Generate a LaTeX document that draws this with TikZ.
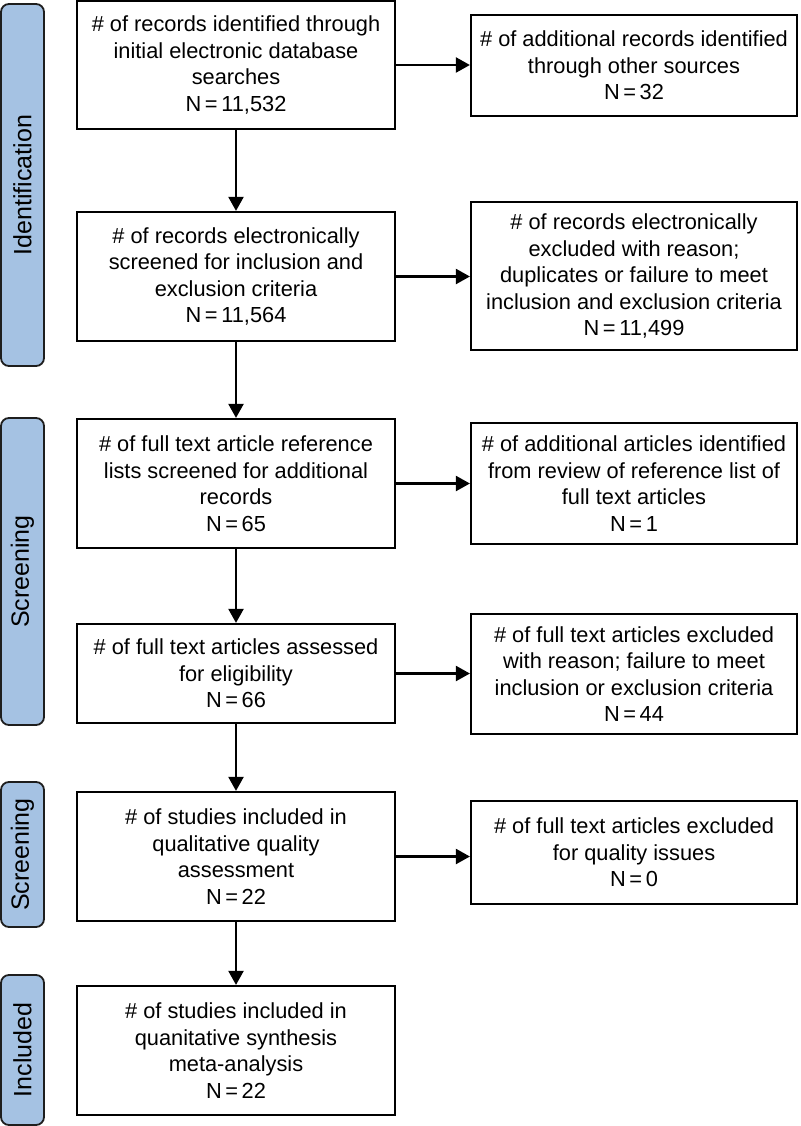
\documentclass[tikz,border=0pt]{standalone}
\usepackage{fontspec}
\setmainfont{Liberation Sans}
\usetikzlibrary{arrows.meta}
\definecolor{barblue}{RGB}{165,194,227}
\definecolor{barline}{RGB}{30,30,30}
\tikzset{
  box/.style={draw=black, line width=2.2pt, fill=white, rectangle, inner sep=0pt,
    align=center, font=\fontsize{21.8}{26.5}\selectfont},
  lbox/.style={box, minimum width=318pt},
  rbox/.style={box, minimum width=326pt},
  phase/.style={draw=barline, line width=1.8pt, fill=barblue, rounded corners=8pt,
    rectangle, rotate=90, minimum height=43pt, inner sep=0pt,
    font=\fontsize{25}{28}\selectfont},
  flow/.style={draw=black, line width=2.2pt, -{Triangle[length=14pt,width=15pt]}}
}
\begin{document}
\begin{tikzpicture}[x=1pt,y=-1pt]
\useasboundingbox (0,0) rectangle (800,1126);
% phase bars
\node[phase, minimum width=362pt] (pid) at (22.5,185) {Identification};
\node[phase, minimum width=307pt] (ps1) at (22.5,571.5) {Screening};
\node[phase, minimum width=145pt] (ps2) at (22.5,854.5) {Screening};
\node[phase, minimum width=150pt] (pin) at (22.5,1050) {Included};
% left column
\node[lbox, minimum height=128pt] (b1) at (236,65) {\# of records identified through\\initial electronic database\\searches\\N\,=\,11,532};
\node[lbox, minimum height=129pt] (b2) at (236,276.5) {\# of records electronically\\screened for inclusion and\\exclusion criteria\\N\,=\,11,564};
\node[lbox, minimum height=129pt] (b3) at (236,483.5) {\# of full text article reference\\lists screened for additional\\records\\N\,=\,65};
\node[lbox, minimum height=99pt] (b4) at (236,673.5) {\# of full text articles assessed\\for eligibility\\N\,=\,66};
\node[lbox, minimum height=129pt] (b5) at (236,856.5) {\# of studies included in\\qualitative quality\\assessment\\N\,=\,22};
\node[lbox, minimum height=129pt] (b6) at (236,1050.5) {\# of studies included in\\quanitative synthesis\\meta-analysis\\N\,=\,22};
% right column
\node[rbox, minimum height=101pt] (r1) at (634,65.5) {\# of additional records identified\\through other sources\\N\,=\,32};
\node[rbox, minimum height=148pt] (r2) at (634,276) {\# of records electronically\\excluded with reason;\\duplicates or failure to meet\\inclusion and exclusion criteria\\N\,=\,11,499};
\node[rbox, minimum height=121pt] (r3) at (634,483.5) {\# of additional articles identified\\from review of reference list of\\full text articles\\N\,=\,1};
\node[rbox, minimum height=120pt] (r4) at (634,674) {\# of full text articles excluded\\with reason; failure to meet\\inclusion or exclusion criteria\\N\,=\,44};
\node[rbox, minimum height=103pt] (r5) at (634,852.5) {\# of full text articles excluded\\for quality issues\\N\,=\,0};
% vertical arrows
\draw[flow] (b1.south) -- (b2.north);
\draw[flow] (b2.south) -- (b3.north);
\draw[flow] (b3.south) -- (b4.north);
\draw[flow] (b4.south) -- (b5.north);
\draw[flow] (b5.south) -- (b6.north);
% horizontal arrows
\draw[flow] (b1.east) -- (b1.east -| r1.west);
\draw[flow] (b2.east) -- (b2.east -| r2.west);
\draw[flow] (b3.east) -- (b3.east -| r3.west);
\draw[flow] (b4.east) -- (b4.east -| r4.west);
\draw[flow] (b5.east) -- (b5.east -| r5.west);
\end{tikzpicture}
\end{document}
